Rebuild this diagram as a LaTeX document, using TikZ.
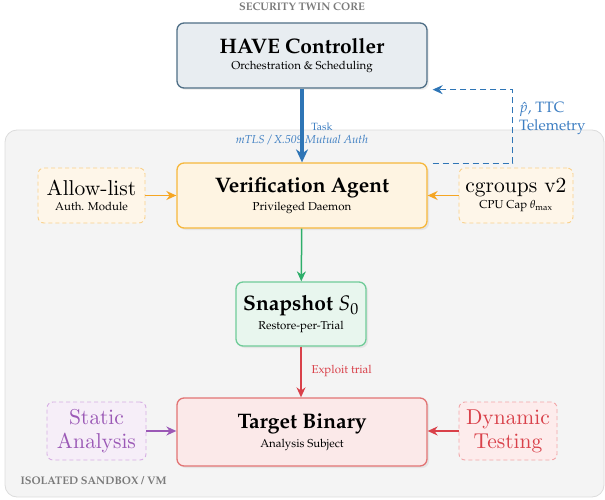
\documentclass[tikz,border=0pt]{standalone}
\usepackage[T1]{fontenc}
\usepackage{mathpazo}
\usetikzlibrary{shadows,arrows.meta}

% Computer Modern Roman at its 10pt design, scaled freely
\DeclareFontFamily{OT1}{cmrten}{}
\DeclareFontShape{OT1}{cmrten}{m}{n}{<-> cmr10}{}

\definecolor{cblue}{HTML}{2E75B6}
\definecolor{cbluetxt}{HTML}{3D7EC2}
\definecolor{haveFill}{HTML}{E8EDF1}
\definecolor{haveLine}{HTML}{4F6F86}
\definecolor{agFill}{HTML}{FEF4E2}
\definecolor{agLine}{HTML}{F6B73C}
\definecolor{sideOFill}{HTML}{FEF6E9}
\definecolor{sideOLine}{HTML}{F9D08A}
\definecolor{corange}{HTML}{F5A623}
\definecolor{cgreen}{HTML}{2EAE6A}
\definecolor{snFill}{HTML}{E8F6EE}
\definecolor{snLine}{HTML}{6FCB98}
\definecolor{cred}{HTML}{D9414A}
\definecolor{tgFill}{HTML}{FBE9E9}
\definecolor{tgLine}{HTML}{E27474}
\definecolor{cpurple}{HTML}{9B59B6}
\definecolor{stFill}{HTML}{F6EEF8}
\definecolor{stLine}{HTML}{D6AEE3}
\definecolor{dyFill}{HTML}{FDECEC}
\definecolor{dyLine}{HTML}{F2A6A8}
\definecolor{sbFill}{HTML}{F4F4F4}
\definecolor{sbLine}{HTML}{DCDCDC}
\definecolor{capgray}{HTML}{7A7A7A}

\newcommand{\ttlsize}{\fontsize{21}{24}\selectfont\bfseries}
\newcommand{\subsize}{\fontsize{11.5}{13}\selectfont}
\newcommand{\lmsize}{\fontencoding{OT1}\fontfamily{cmrten}\fontsize{21.5}{24}\selectfont}

\tikzset{
  mainbox/.style={rounded corners=7pt, line width=1.3pt, align=center, inner sep=0pt,
    drop shadow={shadow xshift=2pt, shadow yshift=-2pt, opacity=0.12}},
  sidebox/.style={rounded corners=6pt, dashed, dash pattern=on 4pt off 3pt, line width=0.9pt,
    align=center, inner sep=0pt},
  zonecap/.style={font=\fontsize{11}{13}\selectfont\bfseries, text=capgray},
  flow/.style={line width=1.5pt, -{Stealth[length=10pt,width=9pt]}},
}

\begin{document}
\begin{tikzpicture}[x=1pt, y=-1pt]
\useasboundingbox (0,0) rectangle (605,500);

% sandbox zone
\draw[fill=sbFill, draw=sbLine, line width=0.8pt, rounded corners=12pt] (5,130) rectangle (604,497);
\node[zonecap, anchor=west] (sbcap) at (17,481) {ISOLATED SANDBOX / VM};
\node[zonecap] (corecap) at (302,7) {SECURITY TWIN CORE};

% main column
\node[mainbox, fill=haveFill, draw=haveLine, minimum width=250pt, minimum height=65pt] (have) at (302,55.5)
  {{\ttlsize HAVE Controller}\\[4pt]{\subsize Orchestration \& Scheduling}};
\node[mainbox, fill=agFill, draw=agLine, minimum width=250pt, minimum height=65pt] (agent) at (302,195.5)
  {{\ttlsize Verification Agent}\\[4pt]{\subsize Privileged Daemon}};
\node[mainbox, fill=snFill, draw=snLine, minimum width=130pt, minimum height=64pt] (snap) at (301,314)
  {{\ttlsize Snapshot \mdseries$S_0$}\\[4pt]{\subsize Restore-per-Trial}};
\node[mainbox, fill=tgFill, draw=tgLine, minimum width=250pt, minimum height=68pt] (target) at (302,432)
  {{\ttlsize Target Binary}\\[4pt]{\subsize Analysis Subject}};

% side modules
\node[sidebox, fill=sideOFill, draw=sideOLine, minimum width=107pt, minimum height=55pt] (allow) at (91.5,195.5)
  {{\lmsize Allow-list}\\[3pt]{\subsize Auth. Module}};
\node[sidebox, fill=sideOFill, draw=sideOLine, minimum width=114pt, minimum height=55pt] (cgrp) at (516,195.5)
  {{\lmsize cgroups v2}\\[3pt]{\subsize CPU Cap $\theta_{\max}$}};
\node[sidebox, fill=stFill, draw=stLine, text=cpurple, minimum width=99pt, minimum height=58pt,
  font=\lmsize] (static) at (96.5,431) {Static\\Analysis};
\node[sidebox, fill=dyFill, draw=dyLine, text=cred, minimum width=98pt, minimum height=58pt,
  font=\lmsize] (dyn) at (508,431) {Dynamic\\Testing};

% connector labels
\node[font=\fontsize{10.5}{12}\selectfont, text=cbluetxt] (tasklbl) at (322,127) {Task};
\node[font=\fontsize{11.5}{13}\selectfont\itshape, text=cbluetxt] (authlbl) at (302,140) {mTLS / X.509 Mutual Auth};
\node[font=\fontsize{11.5}{13}\selectfont, text=cred, anchor=west] (trial) at (308,371) {Exploit trial};
\node[font=\fontsize{15}{18}\selectfont, text=cbluetxt, anchor=north west, align=left, inner sep=0pt] (telelbl) at (519,102)
  {$\hat{p}$, TTC\\Telemetry};

% connectors
\draw[line width=3.2pt, cblue, -{Stealth[length=13pt,width=12pt]}] (have) -- (agent);
\draw[line width=1.3pt, cblue, dashed, dash pattern=on 6pt off 4pt, -{Stealth[length=10pt,width=9pt]}]
  ([xshift=5pt,yshift=-1pt]agent.north east) -- ++(80,0) |- ([xshift=5pt,yshift=-1pt]have.south east);
\draw[flow, corange] (allow) -- (agent);
\draw[flow, corange] (cgrp) -- (agent);
\draw[flow, cgreen] (agent) -- (snap);
\draw[flow, cred] (snap.south) -- (snap.south |- target.north);
\draw[flow, cpurple] (static.east) -- (static.east -| target.west);
\draw[flow, cred] (dyn.west) -- (dyn.west -| target.east);
\end{tikzpicture}
\end{document}
